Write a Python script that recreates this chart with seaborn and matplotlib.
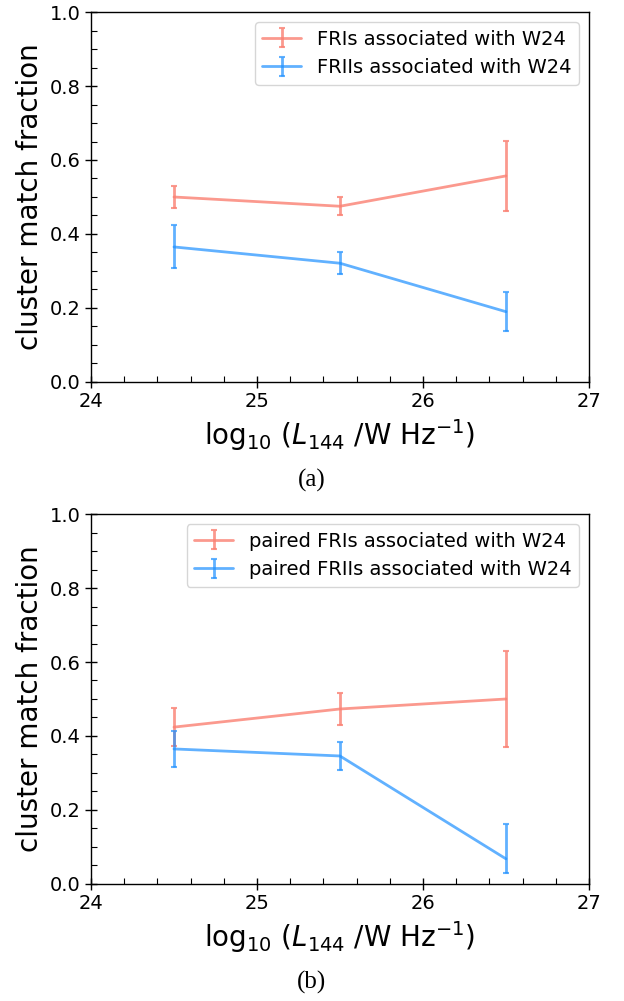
import seaborn as sns
from matplotlib import pyplot as plt
from matplotlib.ticker import MultipleLocator
import numpy as np
import pandas as pd

# luminosity bin centres
lum_bins = [24.5, 25.5, 26.5]

# (a) all sources
fri_frac = [0.500, 0.475, 0.557]
fri_err = [0.030, 0.025, 0.095]
frii_frac = [0.365, 0.321, 0.190]
frii_err = [0.058, 0.030, 0.052]

# (b) paired sources
pfri_frac = [0.424, 0.473, 0.500]
pfri_err = [0.051, 0.042, 0.130]
pfrii_frac = [0.365, 0.346, 0.068]
pfrii_err_lo = [0.049, 0.038, 0.038]
pfrii_err_hi = [0.049, 0.038, 0.094]

colors = {'FRI': 'salmon', 'FRII': 'dodgerblue'}
alphas = {'FRI': 0.8, 'FRII': 0.7}

sns.set_theme(style='ticks')
plt.rcParams['font.family'] = ['DejaVu Sans']
plt.rcParams['text.color'] = 'black'
plt.rcParams['axes.labelcolor'] = 'black'
plt.rcParams['xtick.color'] = 'black'
plt.rcParams['ytick.color'] = 'black'

fig = plt.figure(figsize=(6.24, 10.01), dpi=100)
ax_a = fig.add_axes([0.1458, 0.6184, 0.798, 0.3696])
ax_b = fig.add_axes([0.1458, 0.1169, 0.798, 0.3696])


def draw(ax, series, caption):
    handles = []
    labels = []
    for name, kind, y, yerr in series:
        df = pd.DataFrame({'lum': lum_bins, 'frac': y})
        sns.lineplot(data=df, x='lum', y='frac', ax=ax, color=colors[kind],
                     alpha=alphas[kind], linewidth=2, legend=False)
        line = ax.get_lines()[-1]
        eb = ax.errorbar(lum_bins, y, yerr=yerr, fmt='none', ecolor=colors[kind],
                         alpha=alphas[kind], elinewidth=2, capsize=2.5, capthick=1.5)
        handles.append((line, eb))
        labels.append(name)
    ax.legend(handles, labels, loc='upper right', fontsize=14, frameon=True)
    ax.set_xlim(24, 27)
    ax.set_ylim(0, 1)
    ax.xaxis.set_major_locator(MultipleLocator(1))
    ax.xaxis.set_minor_locator(MultipleLocator(0.2))
    ax.yaxis.set_major_locator(MultipleLocator(0.2))
    ax.yaxis.set_minor_locator(MultipleLocator(0.05))
    ax.tick_params(which='major', direction='inout', length=8, width=1, labelsize=14)
    ax.tick_params(which='minor', direction='in', length=4, width=0.8)
    for s in ax.spines.values():
        s.set_linewidth(1)
        s.set_color('black')
    ax.set_xlabel(r'$\mathrm{log}_{10}$ ($L_{144}$ /W Hz$^{-1}$)', fontsize=20)
    ax.set_ylabel('cluster match fraction', fontsize=20)
    pos = ax.get_position()
    fig.text(0.5, pos.y0 - 0.098, caption, ha='center', va='center',
             fontsize=18, family='Liberation Serif')


draw(ax_a, [('FRIs associated with W24', 'FRI', fri_frac, fri_err),
            ('FRIIs associated with W24', 'FRII', frii_frac, frii_err)], '(a)')
draw(ax_b, [('paired FRIs associated with W24', 'FRI', pfri_frac, pfri_err),
            ('paired FRIIs associated with W24', 'FRII', pfrii_frac,
             [pfrii_err_lo, pfrii_err_hi])], '(b)')

plt.savefig('out.png', dpi=100)
plt.close()
